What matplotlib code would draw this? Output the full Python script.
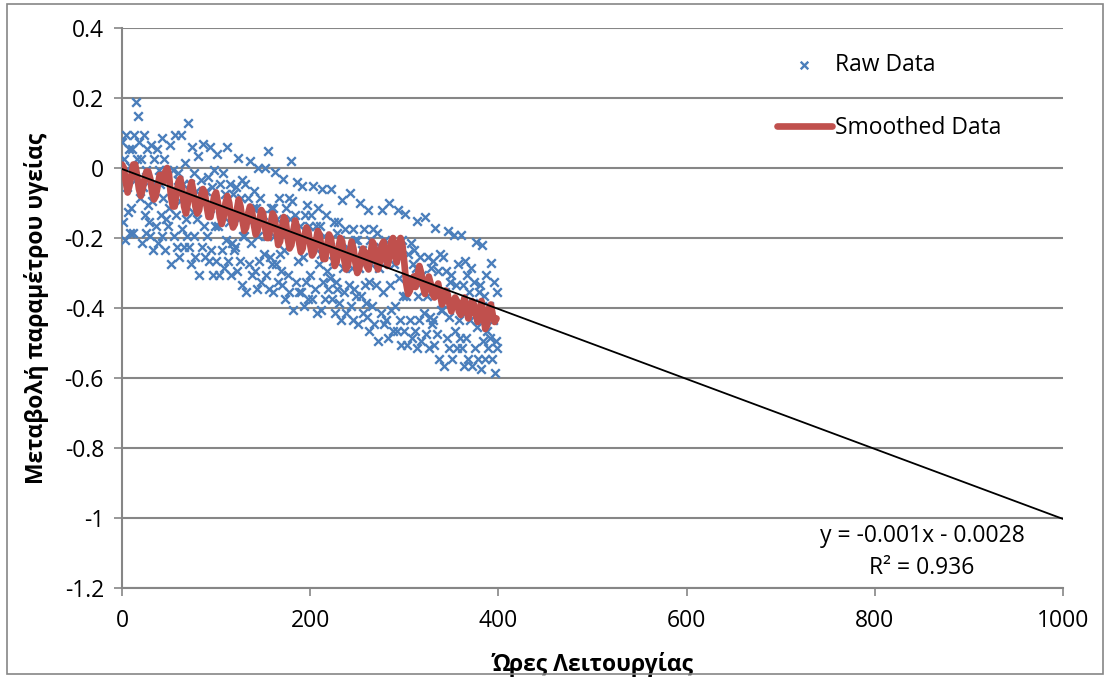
"""
plot.py

Health parameter drift vs operating hours: raw points, smoothed curve, linear trend.
"""

import numpy as np
import matplotlib.pyplot as plt
from matplotlib.patches import Rectangle

plt.rcParams['font.family'] = ['Open Sans', 'DejaVu Sans']

# operating hours of the raw samples (one sample per hour)
raw_hours = np.arange(0, 400)

# raw health parameter change (10 samples per row)
raw_values = [
    0.075, -0.155, 0.025, -0.205, 0.095, -0.055, -0.125, 0.055, -0.185, 0.005,
    -0.115, 0.055, -0.185, 0.095, -0.035, 0.190, 0.025, 0.150, 0.075, -0.085,
    0.025, -0.215, -0.055, 0.095, -0.135, -0.005, -0.185, 0.055, -0.105, -0.155,
    -0.195, 0.065, -0.095, -0.235, 0.025, -0.045, -0.165, 0.055, -0.215, -0.005,
    -0.045, -0.135, 0.085, -0.195, -0.085, 0.025, -0.235, -0.145, -0.005, -0.165,
    -0.115, 0.065, -0.275, -0.065, -0.005, -0.195, 0.095, -0.135, -0.225, -0.035,
    -0.015, -0.255, -0.095, 0.095, -0.175, -0.045, -0.225, 0.015, -0.145, -0.195,
    0.130, -0.225, -0.045, -0.275, 0.060, -0.125, -0.195, -0.015, -0.255, -0.065,
    -0.145, 0.035, -0.305, -0.095, -0.035, -0.225, 0.070, -0.165, -0.255, -0.065,
    -0.195, -0.025, -0.265, 0.060, -0.115, -0.235, -0.055, -0.305, -0.005, -0.165,
    -0.265, 0.040, -0.165, -0.305, -0.045, -0.115, -0.235, -0.015, -0.285, -0.075,
    -0.115, -0.205, 0.060, -0.265, -0.155, -0.045, -0.305, -0.215, -0.075, -0.235,
    -0.225, -0.055, -0.295, 0.030, -0.145, -0.265, -0.085, -0.335, -0.035, -0.195,
    -0.195, -0.045, -0.355, -0.145, -0.085, -0.275, 0.020, -0.215, -0.305, -0.115,
    -0.065, -0.295, -0.115, -0.345, 0.000, -0.195, -0.265, -0.085, -0.325, -0.135,
    -0.155, -0.245, 0.000, -0.305, -0.195, 0.050, -0.345, -0.255, -0.115, -0.275,
    -0.115, -0.355, -0.195, -0.010, -0.275, -0.145, -0.325, -0.085, -0.245, -0.295,
    -0.335, -0.030, -0.235, -0.375, -0.115, -0.185, -0.305, -0.085, -0.355, -0.145,
    0.020, -0.095, -0.405, -0.195, -0.135, -0.325, -0.040, -0.265, -0.355, -0.165,
    -0.355, -0.050, -0.255, -0.395, -0.135, -0.205, -0.325, -0.105, -0.375, -0.165,
    -0.305, -0.135, -0.375, -0.050, -0.225, -0.345, -0.165, -0.415, -0.115, -0.275,
    -0.165, -0.405, -0.245, -0.060, -0.325, -0.195, -0.375, -0.135, -0.295, -0.345,
    -0.225, -0.315, -0.060, -0.375, -0.265, -0.155, -0.415, -0.325, -0.185, -0.345,
    -0.155, -0.385, -0.205, -0.435, -0.090, -0.285, -0.355, -0.175, -0.415, -0.225,
    -0.245, -0.335, -0.070, -0.395, -0.285, -0.175, -0.435, -0.345, -0.205, -0.365,
    -0.205, -0.445, -0.285, -0.100, -0.365, -0.235, -0.415, -0.175, -0.335, -0.385,
    -0.425, -0.120, -0.325, -0.465, -0.205, -0.275, -0.395, -0.175, -0.445, -0.235,
    -0.335, -0.185, -0.495, -0.285, -0.225, -0.415, -0.120, -0.355, -0.445, -0.255,
    -0.205, -0.435, -0.255, -0.485, -0.100, -0.335, -0.405, -0.225, -0.465, -0.275,
    -0.395, -0.225, -0.465, -0.120, -0.315, -0.435, -0.255, -0.505, -0.205, -0.365,
    -0.465, -0.130, -0.365, -0.505, -0.245, -0.315, -0.435, -0.215, -0.485, -0.275,
    -0.235, -0.465, -0.285, -0.515, -0.150, -0.365, -0.435, -0.255, -0.495, -0.305,
    -0.325, -0.415, -0.140, -0.475, -0.365, -0.255, -0.515, -0.425, -0.285, -0.445,
    -0.435, -0.265, -0.505, -0.170, -0.355, -0.475, -0.295, -0.545, -0.245, -0.405,
    -0.405, -0.255, -0.565, -0.355, -0.295, -0.485, -0.180, -0.425, -0.515, -0.325,
    -0.305, -0.545, -0.385, -0.190, -0.465, -0.335, -0.515, -0.275, -0.435, -0.485,
    -0.190, -0.515, -0.335, -0.565, -0.265, -0.415, -0.485, -0.305, -0.545, -0.355,
    -0.435, -0.285, -0.565, -0.385, -0.325, -0.515, -0.210, -0.455, -0.545, -0.355,
    -0.335, -0.575, -0.415, -0.220, -0.495, -0.365, -0.545, -0.305, -0.465, -0.515,
    -0.395, -0.485, -0.270, -0.545, -0.435, -0.325, -0.585, -0.495, -0.355, -0.515,
]

# smoothed curve, sampled every 2 hours
smooth_hours = np.arange(0, 400, 2)
smooth_values = [
    0.01, 0.00, -0.04, -0.07, -0.05, -0.02, 0.01, 0.01, -0.02, -0.06,
    -0.08, -0.06, -0.03, -0.01, -0.01, -0.03, -0.07, -0.09, -0.08, -0.05,
    -0.02, -0.02, -0.04, -0.01, 0.00, -0.02, -0.08, -0.11, -0.11, -0.07,
    -0.04, -0.03, -0.06, -0.11, -0.13, -0.10, -0.06, -0.04, -0.07, -0.11,
    -0.13, -0.12, -0.08, -0.06, -0.07, -0.11, -0.14, -0.14, -0.11, -0.08,
    -0.07, -0.10, -0.14, -0.16, -0.14, -0.10, -0.08, -0.10, -0.15, -0.17,
    -0.16, -0.12, -0.09, -0.11, -0.15, -0.18, -0.17, -0.13, -0.11, -0.12,
    -0.16, -0.19, -0.18, -0.15, -0.12, -0.13, -0.17, -0.20, -0.20, -0.16,
    -0.13, -0.14, -0.18, -0.22, -0.21, -0.17, -0.14, -0.15, -0.20, -0.23,
    -0.22, -0.18, -0.15, -0.17, -0.21, -0.24, -0.23, -0.19, -0.17, -0.18,
    -0.22, -0.25, -0.24, -0.21, -0.18, -0.19, -0.23, -0.26, -0.26, -0.22,
    -0.19, -0.20, -0.24, -0.28, -0.27, -0.23, -0.20, -0.21, -0.26, -0.29,
    -0.28, -0.24, -0.21, -0.23, -0.27, -0.30, -0.29, -0.25, -0.23, -0.24,
    -0.28, -0.29, -0.25, -0.21, -0.22, -0.26, -0.29, -0.27, -0.22, -0.21,
    -0.25, -0.28, -0.26, -0.21, -0.20, -0.24, -0.27, -0.23, -0.20, -0.22,
    -0.27, -0.33, -0.36, -0.35, -0.32, -0.31, -0.34, -0.31, -0.28, -0.30,
    -0.34, -0.36, -0.33, -0.31, -0.33, -0.36, -0.37, -0.34, -0.33, -0.36,
    -0.39, -0.38, -0.35, -0.36, -0.39, -0.41, -0.39, -0.37, -0.38, -0.41,
    -0.42, -0.39, -0.37, -0.40, -0.43, -0.41, -0.38, -0.39, -0.42, -0.44,
    -0.41, -0.38, -0.42, -0.46, -0.45, -0.40, -0.39, -0.42, -0.44, -0.43,
]

# linear trendline as reported on the chart
trend_slope = -0.001
trend_intercept = -0.0028
trend_r2 = 0.936
trend_range = [0, 1000]

BLUE = '#4A7EBB'
RED = '#C0504D'
GRID = '#868686'


def plot_health_trend(output_path="out.png"):
    fig = plt.figure(figsize=(11.1, 6.77), dpi=100)
    ax = fig.add_axes([0.1099, 0.1315, 0.8478, 0.8271])

    ax.scatter(raw_hours, raw_values, marker='x', s=38, linewidths=1.7,
               color=BLUE, label='Raw Data', zorder=3)
    ax.plot(smooth_hours, smooth_values, color=RED, lw=4.8,
            solid_capstyle='round', solid_joinstyle='round',
            label='Smoothed Data', zorder=4)
    tx = np.array(trend_range)
    ax.plot(tx, trend_slope * tx + trend_intercept, color='black', lw=1.3, zorder=5)

    ax.set_xlim(0, 1000)
    ax.set_ylim(-1.2, 0.4)
    ax.set_xticks([0, 200, 400, 600, 800, 1000])
    ax.set_yticks([0.4, 0.2, 0, -0.2, -0.4, -0.6, -0.8, -1, -1.2])
    ax.set_yticklabels(['0.4', '0.2', '0', '-0.2', '-0.4', '-0.6', '-0.8', '-1', '-1.2'])

    ax.yaxis.grid(True, color=GRID, lw=1.5)
    ax.set_axisbelow(True)
    for side in ['top', 'right']:
        ax.spines[side].set_visible(False)
    for side in ['left', 'bottom']:
        ax.spines[side].set_color(GRID)
        ax.spines[side].set_linewidth(1.5)
    ax.tick_params(axis='both', direction='out', length=6, width=1.2,
                   color=GRID, labelsize=16.5, labelcolor='black')
    ax.tick_params(axis='y', pad=7)
    ax.tick_params(axis='x', pad=9)

    ax.set_xlabel('Ώρες Λειτουργίας', fontsize=16.5, fontweight='bold', labelpad=14)
    ax.set_ylabel('Μεταβολή παραμέτρου υγείας', fontsize=16.5, fontweight='bold', labelpad=11)

    ax.text(850, -1.097, f'y = {trend_slope}x - {abs(trend_intercept)}\nR² = {trend_r2}',
            ha='center', va='center', multialignment='center', fontsize=16.5,
            linespacing=1.4, zorder=6)

    leg = ax.legend(loc='upper left', bbox_to_anchor=(0.696, 0.955), frameon=False,
                    fontsize=16.5, handlelength=2.4, handletextpad=0.15,
                    labelspacing=1.7, borderpad=0, borderaxespad=0, scatterpoints=1)
    leg.legend_handles[0].set_sizes([30])

    fig.patches.append(Rectangle((0.006, 0.004), 0.988, 0.99, transform=fig.transFigure,
                                 fill=False, edgecolor=GRID, lw=1.2))

    fig.savefig(output_path, dpi=100)
    plt.close(fig)


if __name__ == "__main__":
    plot_health_trend()
